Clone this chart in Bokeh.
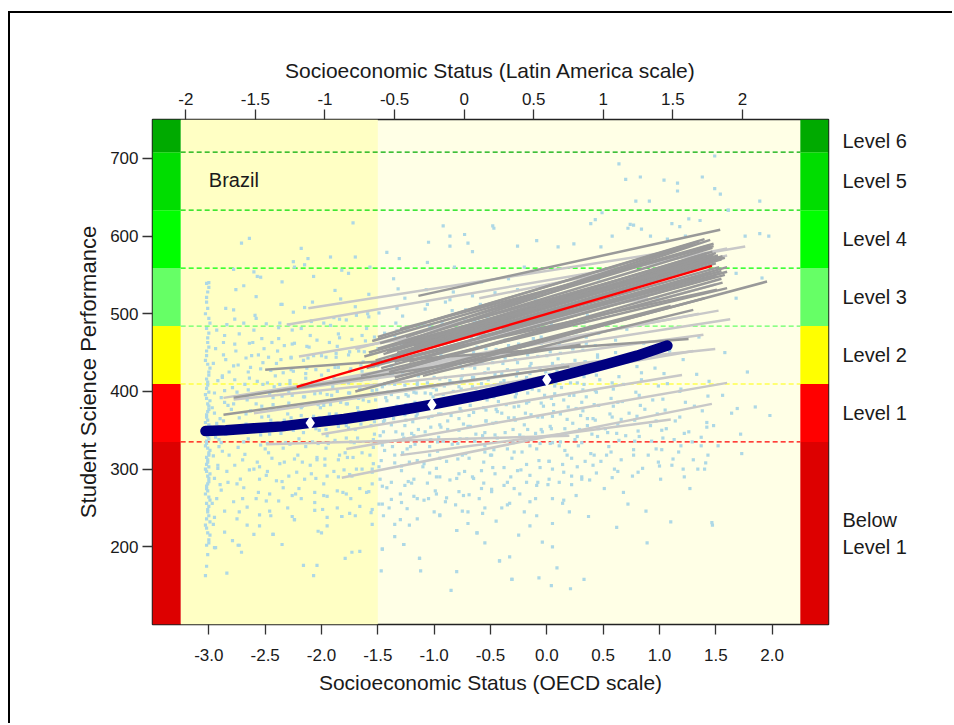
from bokeh.plotting import figure
from bokeh.layouts import column
from bokeh.models import (Range1d, LinearAxis, FixedTicker, CustomJSTickFormatter, Label)
from bokeh.embed import file_html
from bokeh.resources import INLINE

FONT = "Liberation Sans"
TXT = "#1a1a1a"

# ---------------- data ----------------
country = "Brazil"
x_title_bottom = "Socioeconomic Status (OECD scale)"
x_title_top = "Socioeconomic Status (Latin America scale)"
y_title = "Student Science Performance"

level_cuts = [100, 334.94, 409.54, 484.14, 558.73, 633.33, 707.93, 750]
level_colors = ["#DD0000", "#FF0000", "#FFFF00", "#66FF66", "#00FF00", "#00DD00", "#00AA00"]
level_names = [["Below", "Level 1"], ["Level 1"], ["Level 2"], ["Level 3"],
               ["Level 4"], ["Level 5"], ["Level 6"]]

oecd_ticks = [-3.0, -2.5, -2.0, -1.5, -1.0, -0.5, 0.0, 0.5, 1.0, 1.5, 2.0]
la_ticks = [-2, -1.5, -1, -0.5, 0, 0.5, 1, 1.5, 2]
score_ticks = [200, 300, 400, 500, 600, 700]

# Latin America scale: value 0 sits at OECD -0.734, one LA unit = 1.2353 OECD units
la_zero_oecd = -0.734
la_unit_oecd = 1.2353

low_ses_limit = -1.5   # shaded low-SES region ends here

# country gradient (navy curve)
navy_x = [-3.03, -2.85, -2.6, -2.35, -2.1, -1.8, -1.5, -1.25, -1.02, -0.6, -0.3, 0.0, 0.25, 0.5, 0.8, 1.07]
navy_y = [349, 350, 352.5, 355, 359.5, 364.5, 371, 377, 383, 395, 404.5, 415, 424.5, 434, 446, 459]
navy_marker_x = [-2.1, -1.02, 0.0]
navy_marker_y = [359.5, 383, 415]

# between-school gradient (red)
red_x = [-2.22, 1.465]
red_y = [405.8, 561.6]

# within-school gradients: (x0, y0, x1, y1)
school_light = [
    (-2.49, 332, 0.20, 343), (-1.82, 289, 1.465, 384), (-1.78, 326, 1.60, 411),
    (-1.30, 318, 1.10, 364), (-2.00, 345, 1.20, 421), (-2.78, 389.5, 1.495, 454.6),
    (-2.87, 391.7, 1.628, 493), (-2.40, 400, 1.39, 473), (-1.90, 415, 1.524, 504),
    (-2.309, 485.8, 1.761, 586.4), (-2.117, 507, 1.10, 580), (-1.70, 455, 1.60, 575),
    (-0.60, 520, 1.60, 584), (-2.60, 372, 0.80, 445), (-1.00, 395, 1.30, 452),
    (-1.60, 420, 1.35, 500), (-2.20, 445, 0.90, 520), (-1.20, 432, 1.50, 538),
    (-0.90, 455, 1.45, 546),
]
school_dark = [
    (-1.14, 523, 1.539, 608), (-1.303, 480.3, 1.48, 587), (-2.50, 428, 1.258, 467.4),
    (-1.55, 465, 1.48, 590), (-1.50, 455, 1.47, 585), (-1.45, 448, 1.50, 578),
    (-1.40, 458, 1.45, 595), (-1.52, 440, 1.55, 570), (-1.35, 438, 1.60, 560),
    (-1.60, 430, 1.60, 554), (-1.30, 428, 1.55, 545), (-1.65, 420, 1.60, 533),
    (-1.20, 445, 1.51, 531), (-1.00, 460, 1.40, 560), (-0.80, 480, 1.47, 580),
    (-1.25, 470, 1.30, 590), (-1.70, 400, 1.954, 541.4), (-1.45, 410, 1.40, 520),
    (-2.78, 392, 0.30, 460), (-2.87, 370, 0.20, 432), (-1.10, 420, 1.30, 505),
    (-1.58, 450, 1.52, 575), (-1.48, 462, 1.44, 588), (-1.42, 452, 1.58, 572),
    (-1.38, 445, 1.50, 565), (-1.33, 450, 1.56, 574), (-1.28, 460, 1.42, 578),
    (-1.18, 458, 1.48, 575), (-1.56, 435, 1.53, 560), (-1.47, 430, 1.58, 550),
    (-1.40, 425, 1.56, 540), (-1.22, 438, 1.50, 548), (-1.10, 448, 1.45, 552),
    (-0.95, 470, 1.50, 572), (-0.70, 490, 1.42, 575), (-1.50, 470, 1.40, 596),
    (-1.05, 490, 1.35, 593), (-0.60, 470, 1.55, 555), (-0.40, 480, 1.45, 552),
    (-1.62, 445, 1.10, 556), (-1.35, 418, 1.10, 510),
]

# students (SES, science score)
students_floor = [(-3.03, 163), (-3.02, 175), (-3.01, 190), (-3.0, 205), (-2.99, 215), (-3.03, 228),
    (-3.02, 236), (-3.01, 245), (-3.0, 252), (-2.99, 260), (-3.03, 268), (-3.02, 275), (-3.01, 281),
    (-3.0, 288), (-2.99, 294), (-3.03, 300), (-3.02, 306), (-3.01, 312), (-3.0, 318), (-2.99, 324),
    (-3.03, 330), (-3.02, 336), (-3.01, 342), (-3.0, 348), (-2.99, 354), (-3.03, 360), (-3.02, 367),
    (-3.01, 374), (-3.0, 381), (-2.99, 388), (-3.03, 396), (-3.02, 404), (-3.01, 412), (-3.0, 421),
    (-2.99, 430), (-3.03, 440), (-3.02, 452), (-3.01, 463), (-3.0, 475), (-2.99, 488), (-3.03, 500),
    (-3.02, 515), (-3.01, 528), (-3.0, 540), (-2.99, 232),
    (-3.02, 202), (-3.0, 209), (-3.01, 218), (-3.02, 224), (-3.0, 240), (-3.01, 248), (-3.02, 256),
    (-3.0, 264), (-3.01, 272), (-3.02, 278), (-3.0, 284), (-3.01, 291), (-3.02, 297), (-3.0, 303),
    (-3.01, 309), (-3.02, 315), (-3.0, 321), (-3.01, 327), (-3.02, 333), (-3.0, 339), (-3.01, 345),
    (-3.02, 351), (-3.0, 357), (-3.01, 363), (-3.02, 370), (-3.0, 377), (-3.01, 384), (-3.02, 391),
    (-3.0, 399), (-3.01, 408), (-3.02, 416), (-3.0, 425), (-3.01, 435), (-3.02, 446), (-3.0, 457),
    (-3.01, 469), (-3.02, 481), (-3.0, 494), (-3.01, 507), (-3.02, 521), (-3.0, 534)]
students_left = [
    (-2.94, 199), (-2.93, 262), (-2.92, 301), (-2.91, 338), (-2.90, 365), (-2.89, 392), (-2.88, 418),
    (-2.87, 447), (-2.86, 472), (-2.85, 507), (-2.84, 166), (-2.83, 283), (-2.82, 318), (-2.81, 352),
    (-2.80, 377), (-2.79, 405), (-2.79, 208), (-2.78, 433), (-2.77, 461), (-2.77, 493), (-2.76, 531),
    (-2.95, 238), (-2.91, 329), (-2.86, 386), (-2.82, 425),
    (-2.74, 202), (-2.73, 245), (-2.72, 287), (-2.71, 193), (-2.71, 591), (-2.70, 312), (-2.69, 335),
    (-2.68, 356), (-2.67, 371), (-2.66, 389), (-2.65, 402), (-2.64, 597), (-2.64, 417), (-2.63, 431),
    (-2.62, 446), (-2.61, 463), (-2.60, 216), (-2.60, 479), (-2.59, 498), (-2.58, 522), (-2.57, 548),
    (-2.56, 270), (-2.55, 227), (-2.55, 303), (-2.54, 344), (-2.53, 381), (-2.52, 409), (-2.52, 437),
    (-2.51, 455), (-2.50, 326),
    (-2.49, 259), (-2.48, 297), (-2.47, 321), (-2.46, 345), (-2.45, 363), (-2.44, 378), (-2.43, 216),
    (-2.43, 392), (-2.42, 406), (-2.41, 420), (-2.40, 436), (-2.39, 452), (-2.38, 468), (-2.37, 488),
    (-2.36, 512), (-2.35, 203), (-2.35, 541), (-2.34, 276), (-2.33, 309), (-2.32, 334), (-2.31, 356),
    (-2.30, 371), (-2.29, 385), (-2.29, 399), (-2.28, 414), (-2.27, 428), (-2.27, 444), (-2.26, 461),
    (-2.26, 479), (-2.25, 502), (-2.25, 567), (-2.45, 240),
    (-2.24, 235), (-2.23, 268), (-2.22, 296), (-2.21, 318), (-2.20, 339), (-2.19, 355), (-2.18, 369),
    (-2.17, 381), (-2.16, 176), (-2.16, 393), (-2.15, 405), (-2.14, 417), (-2.13, 430), (-2.12, 443),
    (-2.11, 457), (-2.10, 472), (-2.09, 490), (-2.08, 515), (-2.07, 163), (-2.07, 548), (-2.06, 257),
    (-2.05, 288), (-2.04, 176), (-2.04, 312), (-2.03, 220), (-2.03, 333), (-2.02, 350), (-2.02, 366),
    (-2.01, 379), (-2.01, 398), (-2.00, 218), (-2.00, 421), (-2.00, 446), (-2.18, 584),
    (-1.99, 248), (-1.98, 281), (-1.97, 305), (-1.96, 327), (-1.95, 343), (-1.94, 358), (-1.93, 371),
    (-1.92, 383), (-1.91, 395), (-1.90, 406), (-1.89, 418), (-1.88, 431), (-1.87, 444), (-1.86, 458),
    (-1.85, 474), (-1.84, 493), (-1.83, 519), (-1.82, 239), (-1.82, 556), (-1.81, 270), (-1.80, 299),
    (-1.79, 185), (-1.79, 321), (-1.78, 340), (-1.78, 356), (-1.77, 369), (-1.77, 384), (-1.76, 398),
    (-1.76, 411), (-1.75, 426), (-1.75, 451), (-1.95, 227), (-1.92, 485), (-1.88, 530), (-1.85, 312),
    (-1.80, 363),
    (-1.74, 262), (-1.73, 193), (-1.73, 291), (-1.72, 617), (-1.72, 315), (-1.71, 334), (-1.70, 351),
    (-1.69, 366), (-1.68, 379), (-1.67, 391), (-1.66, 194), (-1.66, 403), (-1.65, 414), (-1.64, 426),
    (-1.63, 438), (-1.62, 451), (-1.61, 465), (-1.60, 481), (-1.59, 500), (-1.58, 525), (-1.57, 560),
    (-1.56, 244), (-1.55, 229), (-1.55, 281), (-1.54, 307), (-1.54, 328), (-1.53, 345), (-1.53, 361),
    (-1.52, 375), (-1.52, 389), (-1.51, 402), (-1.51, 417), (-1.50, 433), (-1.50, 455), (-1.70, 509),
    (-1.64, 300), (-1.60, 372), (-1.58, 420),
    (-3.02, 539), (-2.69, 536), (-2.78, 557), (-2.60, 554), (-2.54, 547), (-2.15, 563), (-1.92, 573),
    (-1.70, 573), (-1.76, 552), (-2.12, 571), (-2.24, 560), (-2.90, 280), (-2.70, 262), (-2.60, 300),
    (-2.40, 285), (-2.30, 250), (-2.20, 275), (-2.10, 305), (-1.95, 265), (-1.85, 290), (-1.70, 240),
    (-1.60, 270), (-1.55, 300), (-2.95, 199), (-2.73, 202), (-2.43, 216), (-2.24, 235), (-1.82, 239),
]
students_left_dense = [
    (-2.97, 256), (-2.95, 288), (-2.96, 317), (-2.94, 341), (-2.93, 359), (-2.97, 379), (-2.95, 398),
    (-2.92, 414), (-2.96, 436), (-2.94, 455), (-2.93, 479), (-2.96, 229), (-2.92, 305), (-2.95, 372),
    (-2.86, 246), (-2.89, 273), (-2.84, 297), (-2.88, 323), (-2.85, 345), (-2.87, 362), (-2.83, 382),
    (-2.86, 401), (-2.88, 420), (-2.85, 441), (-2.87, 463), (-2.84, 486), (-2.89, 334), (-2.86, 219),
    (-2.78, 258), (-2.75, 281), (-2.77, 305), (-2.74, 328), (-2.76, 348), (-2.73, 366), (-2.78, 384),
    (-2.75, 399), (-2.77, 415), (-2.74, 434), (-2.76, 452), (-2.73, 474), (-2.78, 505), (-2.75, 236),
    (-2.66, 251), (-2.69, 276), (-2.64, 299), (-2.68, 319), (-2.65, 339), (-2.67, 358), (-2.63, 375),
    (-2.66, 392), (-2.68, 409), (-2.65, 425), (-2.67, 443), (-2.64, 462), (-2.69, 488), (-2.66, 228),
    (-2.58, 262), (-2.55, 287), (-2.57, 309), (-2.54, 331), (-2.56, 350), (-2.53, 367), (-2.58, 384),
    (-2.55, 398), (-2.57, 413), (-2.54, 429), (-2.56, 447), (-2.53, 468), (-2.58, 494), (-2.55, 241),
    (-2.46, 268), (-2.49, 292), (-2.44, 314), (-2.48, 333), (-2.45, 352), (-2.47, 368), (-2.43, 383),
    (-2.46, 397), (-2.48, 411), (-2.45, 427), (-2.47, 444), (-2.44, 463), (-2.49, 487), (-2.46, 246),
    (-2.38, 259), (-2.35, 284), (-2.37, 307), (-2.34, 327), (-2.36, 346), (-2.33, 363), (-2.38, 379),
    (-2.35, 394), (-2.37, 409), (-2.34, 424), (-2.36, 441), (-2.33, 459), (-2.38, 482), (-2.35, 512),
    (-2.26, 266), (-2.29, 291), (-2.24, 313), (-2.28, 332), (-2.25, 350), (-2.27, 366), (-2.23, 381),
    (-2.26, 395), (-2.28, 410), (-2.25, 426), (-2.27, 443), (-2.24, 462), (-2.29, 486), (-2.26, 239),
    (-2.18, 262), (-2.15, 287), (-2.17, 309), (-2.14, 329), (-2.16, 347), (-2.13, 364), (-2.18, 379),
    (-2.15, 393), (-2.17, 408), (-2.14, 423), (-2.16, 440), (-2.13, 458), (-2.18, 481), (-2.15, 508),
    (-2.06, 270), (-2.09, 294), (-2.04, 315), (-2.08, 335), (-2.05, 352), (-2.07, 368), (-2.03, 383),
    (-2.06, 397), (-2.08, 412), (-2.05, 428), (-2.07, 446), (-2.04, 466), (-2.09, 491), (-2.06, 247),
    (-1.98, 266), (-1.95, 291), (-1.97, 313), (-1.94, 333), (-1.96, 351), (-1.93, 367), (-1.98, 382),
    (-1.95, 396), (-1.97, 411), (-1.94, 427), (-1.96, 444), (-1.93, 463), (-1.98, 488), (-1.95, 238),
    (-1.86, 272), (-1.89, 297), (-1.84, 318), (-1.88, 337), (-1.85, 355), (-1.87, 371), (-1.83, 386),
    (-1.86, 400), (-1.88, 415), (-1.85, 431), (-1.87, 449), (-1.84, 469), (-1.89, 495), (-1.86, 250),
    (-1.78, 268), (-1.75, 293), (-1.77, 315), (-1.74, 335), (-1.76, 353), (-1.73, 369), (-1.78, 384),
    (-1.75, 398), (-1.77, 413), (-1.74, 429), (-1.76, 447), (-1.73, 467), (-1.78, 492), (-1.75, 243),
    (-1.66, 275), (-1.69, 300), (-1.64, 321), (-1.68, 340), (-1.65, 358), (-1.67, 374), (-1.63, 389),
    (-1.66, 403), (-1.68, 418), (-1.65, 434), (-1.67, 452), (-1.64, 472), (-1.69, 498), (-1.66, 252),
    (-1.58, 271), (-1.55, 296), (-1.57, 318), (-1.54, 338), (-1.56, 356), (-1.53, 372), (-1.58, 387),
    (-1.55, 401), (-1.57, 416), (-1.54, 432), (-1.56, 450), (-1.53, 470), (-1.58, 496), (-1.55, 248),
]
students_mid = [
    (-1.49, 255), (-1.48, 287), (-1.47, 169), (-1.47, 311), (-1.46, 197), (-1.46, 331), (-1.45, 240),
    (-1.45, 348), (-1.44, 363), (-1.43, 376), (-1.42, 388), (-1.41, 399), (-1.40, 410), (-1.39, 421),
    (-1.38, 433), (-1.37, 445), (-1.36, 458), (-1.35, 472), (-1.34, 488), (-1.33, 507), (-1.32, 532),
    (-1.31, 571), (-1.30, 268), (-1.29, 298), (-1.28, 321), (-1.27, 203), (-1.27, 340), (-1.26, 356),
    (-1.26, 370), (-1.25, 383), (-1.25, 396), (-1.44, 409), (-1.41, 438), (-1.38, 357), (-1.35, 318),
    (-1.32, 392), (-1.29, 461), (-1.28, 497), (-1.42, 276), (-1.36, 545),
    (-1.24, 249), (-1.23, 284), (-1.22, 309), (-1.21, 329), (-1.20, 346), (-1.19, 361), (-1.18, 374),
    (-1.17, 386), (-1.16, 398), (-1.15, 409), (-1.14, 420), (-1.13, 185), (-1.13, 432), (-1.12, 169),
    (-1.12, 444), (-1.11, 457), (-1.10, 471), (-1.09, 487), (-1.08, 506), (-1.07, 531), (-1.06, 566),
    (-1.05, 262), (-1.04, 295), (-1.04, 318), (-1.03, 338), (-1.03, 354), (-1.02, 368), (-1.02, 381),
    (-1.01, 393), (-1.01, 405), (-1.00, 418), (-1.00, 436), (-1.22, 228), (-1.18, 343), (-1.15, 371),
    (-1.10, 303), (-1.08, 398), (-1.06, 425), (-1.20, 465), (-1.05, 592),
    (-0.99, 272), (-0.98, 301), (-0.97, 323), (-0.96, 341), (-0.95, 357), (-0.94, 371), (-0.93, 384),
    (-0.92, 396), (-0.91, 407), (-0.90, 418), (-0.89, 430), (-0.88, 442), (-0.87, 455), (-0.86, 469),
    (-0.85, 144), (-0.85, 485), (-0.84, 504), (-0.83, 528), (-0.82, 560), (-0.81, 254), (-0.80, 168),
    (-0.80, 221), (-0.80, 288), (-0.79, 313), (-0.79, 333), (-0.78, 350), (-0.78, 365), (-0.77, 378),
    (-0.77, 391), (-0.76, 403), (-0.76, 416), (-0.75, 430), (-0.75, 450), (-0.95, 240), (-0.92, 336),
    (-0.88, 362), (-0.84, 411), (-0.81, 478), (-0.90, 515), (-0.86, 600),
    (-0.74, 266), (-0.73, 297), (-0.72, 320), (-0.71, 339), (-0.70, 355), (-0.69, 369), (-0.68, 382),
    (-0.67, 394), (-0.66, 406), (-0.65, 418), (-0.64, 430), (-0.63, 443), (-0.62, 218), (-0.62, 457),
    (-0.61, 472), (-0.60, 490), (-0.59, 512), (-0.58, 541), (-0.57, 243), (-0.56, 282), (-0.56, 309),
    (-0.55, 330), (-0.55, 347), (-0.54, 362), (-0.54, 376), (-0.53, 389), (-0.53, 402), (-0.52, 415),
    (-0.52, 429), (-0.51, 447), (-0.50, 470), (-0.50, 318), (-0.70, 230), (-0.66, 580), (-0.63, 345),
    (-0.60, 398), (-0.58, 436), (-0.72, 505),
    (-0.49, 274), (-0.48, 302), (-0.47, 325), (-0.46, 344), (-0.45, 360), (-0.44, 374), (-0.43, 387),
    (-0.42, 182), (-0.42, 399), (-0.41, 411), (-0.40, 423), (-0.39, 436), (-0.38, 450), (-0.37, 466),
    (-0.36, 485), (-0.35, 510), (-0.34, 545), (-0.33, 187), (-0.33, 256), (-0.32, 290), (-0.31, 158),
    (-0.31, 314), (-0.30, 334), (-0.30, 351), (-0.29, 366), (-0.29, 380), (-0.28, 393), (-0.27, 406),
    (-0.27, 420), (-0.26, 437), (-0.25, 461), (-0.45, 233), (-0.40, 372), (-0.36, 404), (-0.30, 495),
    (-0.47, 610),
    (-0.24, 268), (-0.23, 299), (-0.22, 322), (-0.21, 341), (-0.20, 357), (-0.19, 372), (-0.18, 385),
    (-0.17, 398), (-0.16, 410), (-0.15, 423), (-0.14, 436), (-0.13, 451), (-0.12, 468), (-0.11, 489),
    (-0.10, 517), (-0.09, 240), (-0.08, 283), (-0.07, 160), (-0.07, 311), (-0.06, 333), (-0.05, 351),
    (-0.04, 206), (-0.04, 367), (-0.03, 381), (-0.02, 395), (-0.02, 409), (-0.01, 425), (0.00, 446),
    (-0.20, 560), (-0.15, 227), (-0.10, 346), (-0.05, 470),
    (-1.40, 250), (-1.30, 235), (-1.15, 262), (-1.00, 245), (-0.90, 258), (-0.70, 245), (-0.60, 262),
    (-0.40, 250), (-0.20, 245), (-0.10, 262), (-1.20, 282), (-0.95, 290), (-0.65, 288), (-0.35, 283),
    (-0.15, 292), (-1.35, 213), (-0.55, 205), (-0.25, 215), (-1.46, 197), (-1.27, 203), (-1.13, 185),
    (-0.42, 182), (-0.31, 158), (-0.62, 218), (-0.80, 221),
    (-0.92, 613), (-0.48, 613), (-0.73, 602), (-0.70, 591), (-0.86, 587), (-0.26, 587), (-1.42, 579),
    (-0.09, 594),
]
students_mid_dense = [
    (-1.46, 278), (-1.49, 303), (-1.44, 324), (-1.48, 343), (-1.45, 361), (-1.47, 377), (-1.43, 392),
    (-1.46, 406), (-1.48, 421), (-1.45, 437), (-1.47, 455), (-1.44, 475), (-1.49, 501), (-1.46, 255),
    (-1.38, 283), (-1.35, 308), (-1.37, 329), (-1.34, 348), (-1.36, 365), (-1.33, 381), (-1.38, 396),
    (-1.35, 409), (-1.37, 423), (-1.34, 439), (-1.36, 457), (-1.33, 478), (-1.38, 261), (-1.35, 229),
    (-1.26, 279), (-1.29, 304), (-1.24, 326), (-1.28, 345), (-1.25, 363), (-1.27, 379), (-1.23, 394),
    (-1.26, 408), (-1.28, 423), (-1.25, 440), (-1.27, 459), (-1.24, 481), (-1.29, 257), (-1.26, 520),
    (-1.18, 287), (-1.15, 311), (-1.17, 332), (-1.14, 351), (-1.16, 368), (-1.13, 384), (-1.18, 399),
    (-1.15, 413), (-1.17, 428), (-1.14, 444), (-1.16, 463), (-1.13, 485), (-1.18, 265), (-1.15, 236),
    (-1.06, 282), (-1.09, 307), (-1.04, 329), (-1.08, 348), (-1.05, 366), (-1.07, 382), (-1.03, 397),
    (-1.06, 411), (-1.08, 426), (-1.05, 443), (-1.07, 462), (-1.04, 484), (-1.09, 260), (-1.06, 512),
    (-0.98, 290), (-0.95, 314), (-0.97, 335), (-0.94, 354), (-0.96, 371), (-0.93, 387), (-0.98, 402),
    (-0.95, 416), (-0.97, 431), (-0.94, 447), (-0.96, 466), (-0.93, 488), (-0.98, 268), (-0.95, 241),
    (-0.86, 286), (-0.89, 310), (-0.84, 332), (-0.88, 351), (-0.85, 369), (-0.87, 385), (-0.83, 400),
    (-0.86, 414), (-0.88, 429), (-0.85, 446), (-0.87, 465), (-0.84, 487), (-0.89, 263), (-0.86, 518),
    (-0.78, 294), (-0.75, 318), (-0.77, 339), (-0.74, 358), (-0.76, 375), (-0.73, 391), (-0.78, 406),
    (-0.75, 420), (-0.77, 435), (-0.74, 451), (-0.76, 470), (-0.73, 492), (-0.78, 271), (-0.75, 246),
    (-0.66, 290), (-0.69, 314), (-0.64, 336), (-0.68, 355), (-0.65, 373), (-0.67, 389), (-0.63, 404),
    (-0.66, 418), (-0.68, 433), (-0.65, 450), (-0.67, 469), (-0.64, 491), (-0.69, 267), (-0.66, 523),
    (-0.58, 298), (-0.55, 322), (-0.57, 343), (-0.54, 362), (-0.56, 379), (-0.53, 395), (-0.58, 410),
    (-0.55, 424), (-0.57, 439), (-0.54, 455), (-0.56, 474), (-0.53, 496), (-0.58, 275), (-0.55, 250),
    (-0.46, 294), (-0.49, 318), (-0.44, 340), (-0.48, 359), (-0.45, 377), (-0.47, 393), (-0.43, 408),
    (-0.46, 422), (-0.48, 437), (-0.45, 454), (-0.47, 473), (-0.44, 495), (-0.49, 271), (-0.46, 527),
    (-0.38, 302), (-0.35, 326), (-0.37, 347), (-0.34, 366), (-0.36, 383), (-0.33, 399), (-0.38, 414),
    (-0.35, 428), (-0.37, 443), (-0.34, 459), (-0.36, 478), (-0.33, 500), (-0.38, 279), (-0.35, 254),
    (-0.26, 298), (-0.29, 322), (-0.24, 344), (-0.28, 363), (-0.25, 381), (-0.27, 397), (-0.23, 412),
    (-0.26, 426), (-0.28, 441), (-0.25, 458), (-0.27, 477), (-0.24, 499), (-0.29, 275), (-0.26, 531),
    (-0.18, 306), (-0.15, 330), (-0.17, 351), (-0.14, 370), (-0.16, 387), (-0.13, 403), (-0.18, 418),
    (-0.15, 432), (-0.17, 447), (-0.14, 463), (-0.16, 482), (-0.13, 504), (-0.18, 283), (-0.15, 258),
    (-0.06, 302), (-0.09, 326), (-0.04, 348), (-0.08, 367), (-0.05, 385), (-0.07, 401), (-0.03, 416),
    (-0.06, 430), (-0.08, 445), (-0.05, 462), (-0.07, 481), (-0.04, 503), (-0.09, 279), (-0.06, 535),
]
students_right = [
    (0.01, 280), (0.02, 310), (0.03, 333), (0.04, 150), (0.04, 352), (0.05, 200), (0.05, 368),
    (0.06, 383), (0.07, 397), (0.08, 411), (0.09, 173), (0.09, 426), (0.10, 442), (0.11, 461),
    (0.12, 485), (0.13, 521), (0.14, 256), (0.15, 296), (0.16, 324), (0.17, 346), (0.18, 364),
    (0.19, 380), (0.20, 395), (0.21, 146), (0.21, 411), (0.22, 430), (0.23, 455), (0.24, 590),
    (0.26, 266), (0.27, 303), (0.28, 330), (0.29, 351), (0.30, 369), (0.31, 386), (0.32, 402),
    (0.33, 158), (0.33, 419), (0.34, 438), (0.35, 462), (0.36, 498), (0.37, 239), (0.38, 286),
    (0.39, 320), (0.40, 345), (0.41, 365), (0.42, 383), (0.43, 401), (0.44, 421), (0.45, 447),
    (0.46, 545), (0.48, 310), (0.49, 630),
    (0.05, 300), (0.12, 335), (0.18, 318), (0.27, 342), (0.31, 290), (0.36, 365), (0.41, 305),
    (0.46, 352), (0.15, 260), (0.22, 280), (0.05, 230), (0.20, 245),
    (0.51, 275), (0.53, 318), (0.54, 347), (0.56, 371), (0.57, 391), (0.58, 411), (0.60, 434),
    (0.61, 466), (0.62, 225), (0.63, 297), (0.64, 693), (0.64, 337), (0.66, 364), (0.67, 387),
    (0.68, 409), (0.69, 438), (0.70, 673), (0.71, 480), (0.72, 255), (0.74, 615),
    (0.76, 291), (0.78, 336), (0.79, 645), (0.80, 368), (0.82, 395), (0.83, 676), (0.84, 424),
    (0.86, 462), (0.88, 246), (0.89, 205), (0.90, 318), (0.91, 645), (0.92, 356), (0.94, 389),
    (0.96, 430), (0.98, 520),
    (0.52, 352), (0.55, 329), (0.59, 381), (0.63, 358), (0.66, 312), (0.70, 343), (0.73, 372),
    (0.77, 325), (0.81, 349), (0.85, 301), (0.87, 377), (0.93, 336), (0.97, 362), (0.99, 309),
    (0.58, 289), (0.68, 270),
    (1.01, 287), (1.03, 340), (1.04, 672), (1.05, 376), (1.07, 410), (1.09, 452), (1.10, 232),
    (1.12, 313), (1.14, 362), (1.16, 668), (1.16, 658), (1.18, 400), (1.21, 441), (1.23, 600),
    (1.27, 275), (1.29, 335), (1.31, 381), (1.33, 422), (1.35, 470), (1.38, 676), (1.40, 300),
    (1.42, 360), (1.44, 413), (1.465, 231), (1.47, 228), (1.49, 703),
    (1.02, 325), (1.06, 352), (1.11, 305), (1.13, 338), (1.19, 330), (1.22, 290), (1.26, 348),
    (1.30, 312), (1.34, 300), (1.37, 341), (1.43, 318), (1.48, 356),
    (1.52, 330), (1.54, 654), (1.56, 395), (1.58, 450), (1.61, 633), (1.64, 372), (1.68, 520),
    (1.72, 345), (1.78, 425), (1.85, 380), (1.89, 645), (1.97, 600),
    (0.43, 621), (0.39, 616), (0.58, 600), (0.48, 586), (0.72, 610), (0.77, 614), (0.84, 609),
    (0.92, 600), (1.07, 596), (1.11, 616), (1.18, 612), (1.26, 622), (1.36, 620), (0.10, 586),
    (1.76, 600), (1.89, 603), (1.91, 546), (1.68, 552), (1.73, 320), (1.98, 369), (1.69, 378),
    (1.49, 661), (1.61, 633.5),
]
students_right_dense = [
    (0.02, 310), (0.05, 334), (0.03, 355), (0.06, 374), (0.04, 391), (0.07, 407), (0.02, 422),
    (0.05, 436), (0.03, 451), (0.06, 467), (0.04, 486), (0.07, 508), (0.02, 287), (0.05, 262),
    (0.14, 306), (0.11, 330), (0.16, 352), (0.12, 371), (0.15, 389), (0.13, 405), (0.17, 420),
    (0.14, 434), (0.12, 449), (0.15, 466), (0.13, 485), (0.16, 507), (0.11, 283),
    (0.22, 314), (0.25, 338), (0.23, 359), (0.26, 378), (0.24, 395), (0.27, 411), (0.22, 426),
    (0.25, 440), (0.23, 455), (0.26, 471), (0.24, 490), (0.22, 291),
    (0.34, 310), (0.31, 334), (0.36, 356), (0.32, 375), (0.35, 393), (0.33, 409), (0.37, 424),
    (0.34, 438), (0.32, 453), (0.35, 470), (0.33, 489), (0.31, 287),
    (0.42, 318), (0.45, 342), (0.43, 363), (0.46, 382), (0.44, 399), (0.47, 415), (0.42, 430),
    (0.45, 444), (0.43, 459), (0.46, 475), (0.44, 295),
    (0.57, 322), (0.62, 346), (0.58, 367), (0.63, 386), (0.59, 403), (0.64, 419), (0.57, 434),
    (0.61, 450), (0.60, 300),
    (0.77, 318), (0.82, 342), (0.78, 363), (0.83, 382), (0.79, 399), (0.84, 415), (0.80, 432),
    (0.81, 296),
    (0.97, 326), (1.02, 350), (0.98, 371), (1.03, 390), (0.99, 407), (1.04, 423), (1.00, 304),
    (1.17, 322), (1.22, 346), (1.18, 367), (1.23, 386), (1.19, 403), (1.21, 300),
    (1.37, 330), (1.42, 354), (1.38, 375), (1.43, 394), (1.41, 308),
]

# ---------------- figure ----------------
x_lo, x_hi = -3.5, 2.5
y_lo, y_hi = level_cuts[0], level_cuts[-1]
band_w = 0.25

p = figure(width=944, height=712, output_backend="svg", toolbar_location=None,
           x_range=Range1d(x_lo, x_hi), y_range=Range1d(y_lo, y_hi),
           min_border_left=142, min_border_right=126, min_border_top=106, min_border_bottom=101,
           background_fill_color="#FFFFE6", border_fill_color="white")
p.grid.visible = False
p.outline_line_color = "#222222"
p.outline_line_width = 1.5

# low-SES shading
p.quad(left=x_lo + band_w, right=low_ses_limit, bottom=y_lo, top=y_hi,
       fill_color="#FFFFC4", line_color=None)

# proficiency colour bands
p.quad(left=x_lo, right=x_lo + band_w, bottom=level_cuts[:-1], top=level_cuts[1:],
       fill_color=level_colors, line_color=None)
p.quad(left=x_hi - band_w, right=x_hi, bottom=level_cuts[:-1], top=level_cuts[1:],
       fill_color=level_colors, line_color=None)

# dashed level lines
cuts = level_cuts[1:-1]
p.segment(x0=[x_lo + band_w] * len(cuts), x1=[x_hi - band_w] * len(cuts), y0=cuts, y1=cuts,
          line_color=level_colors[1:], line_dash="5 3", line_width=1.2)

# students
all_students = (students_floor + students_left + students_left_dense + students_mid
                + students_mid_dense + students_right + students_right_dense)
sx = [a for a, b in all_students]
sy = [b for a, b in all_students]
p.scatter(sx, sy, marker="square", size=3.2, fill_color="#ADD8E6", line_color=None)

# school gradients
p.segment(x0=[s[0] for s in school_light], y0=[s[1] for s in school_light],
          x1=[s[2] for s in school_light], y1=[s[3] for s in school_light],
          line_color="#C8C8C8", line_width=2.5)
p.segment(x0=[s[0] for s in school_dark], y0=[s[1] for s in school_dark],
          x1=[s[2] for s in school_dark], y1=[s[3] for s in school_dark],
          line_color="#999999", line_width=2.5)

p.line(red_x, red_y, line_color="#FF0000", line_width=2.5)
p.line(navy_x, navy_y, line_color="#000080", line_width=10.5, line_cap="round", line_join="round")
p.scatter(navy_marker_x, navy_marker_y, marker="diamond", size=14, fill_color="white",
          line_color=None)

# ---------------- axes ----------------
def style_axis(ax):
    ax.axis_line_color = None
    ax.major_tick_line_color = "#333333"
    ax.major_tick_line_width = 1.3
    ax.major_tick_out = 10
    ax.major_tick_in = 0
    ax.minor_tick_line_color = None
    ax.major_label_text_font = FONT
    ax.major_label_text_font_size = "17px"
    ax.major_label_text_color = TXT
    ax.axis_label_text_font = FONT
    ax.axis_label_text_font_size = "21px"
    ax.axis_label_text_font_style = "normal"
    ax.axis_label_text_color = TXT

xa = p.xaxis[0]
style_axis(xa)
xa.ticker = FixedTicker(ticks=oecd_ticks)
xa.formatter = CustomJSTickFormatter(code="return tick.toFixed(1);")
xa.axis_label = x_title_bottom
xa.major_label_standoff = 14
xa.axis_label_standoff = 7

ya = p.yaxis[0]
style_axis(ya)
ya.ticker = FixedTicker(ticks=score_ticks)
ya.axis_label = y_title
ya.axis_label_text_font_size = "22px"
ya.major_label_standoff = 4
ya.axis_label_standoff = 6

p.extra_x_ranges = {"la": Range1d((x_lo - la_zero_oecd) / la_unit_oecd,
                                  (x_hi - la_zero_oecd) / la_unit_oecd)}
ta = LinearAxis(x_range_name="la", ticker=FixedTicker(ticks=la_ticks),
                formatter=CustomJSTickFormatter(code="return tick.toString();"),
                axis_label=x_title_top)
style_axis(ta)
ta.major_label_standoff = 5
ta.axis_label_standoff = 8
p.add_layout(ta, "above")

# right-hand proficiency level names (as an axis so they sit outside the frame)
lvl_ticks = []
lvl_text = {}
for i, names in enumerate(level_names):
    lo, hi = level_cuts[i], level_cuts[i + 1]
    mid = lo + 14 if i == len(level_names) - 1 else (lo + hi) / 2
    n = len(names)
    for j, t in enumerate(names):
        yy = round(mid + (n - 1) * 17.3 - j * 34.6, 2)
        lvl_ticks.append(yy)
        lvl_text[yy] = t
ra = LinearAxis(ticker=FixedTicker(ticks=lvl_ticks), major_label_overrides=lvl_text)
ra.axis_line_color = None
ra.major_tick_line_color = None
ra.minor_tick_line_color = None
ra.major_tick_out = 0
ra.major_tick_in = 0
ra.major_label_standoff = 14
ra.major_label_text_font = FONT
ra.major_label_text_font_size = "20px"
ra.major_label_text_color = TXT
p.add_layout(ra, "right")

p.add_layout(Label(x=-3.0, y=672, text=country, text_font=FONT, text_font_size="20px",
                   text_color=TXT, text_baseline="middle", text_align="left"))

# page frame of the original graphic: only its left and top edges are in view
page = column(p, width=944, height=712,
              styles={"margin-left": "10px", "margin-top": "13px",
                      "box-shadow": "-2px -2px 0px 0px #000000"})

open("out.html", "w").write(file_html(page, INLINE))
